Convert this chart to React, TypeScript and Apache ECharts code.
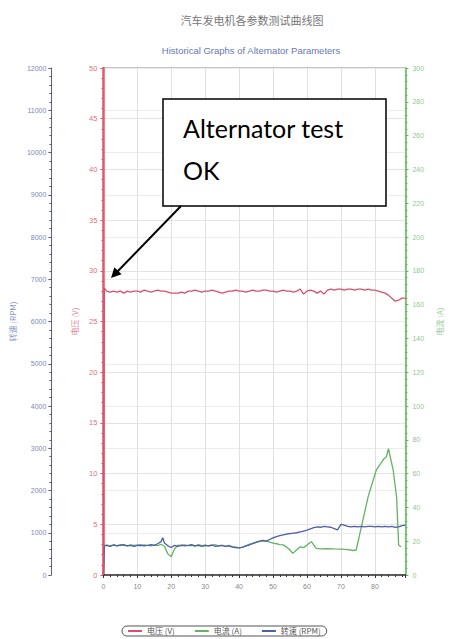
import React, { useEffect, useRef } from "react";
import * as echarts from "echarts";

const titleText = "汽车发电机各参数测试曲线图";
const subtitleText = "Historical Graphs of Alternator Parameters";
const seriesNames = ["电压 (V)", "电流 (A)", "转速 (RPM)"];
const axisNames = ["电压 (V)", "转速 (RPM)", "电流 (A)"];
const noteLines = ["Alternator test", "OK"];

// time (x) , voltage (V)
const voltage: [number, number][] = [
  [0, 0], [0.3, 28.3], [1, 28.0], [2, 27.9], [3, 28.0], [4, 27.9], [5, 28.0], [6, 27.8], [7, 28.0], [8, 27.9],
  [9, 28.0], [10, 28.0], [11, 27.9], [12, 28.1], [13, 28.0], [14, 27.9], [15, 28.0], [16, 28.1], [17, 28.0],
  [18, 28.0], [19, 27.9], [20, 27.8], [21, 27.8], [22, 27.8], [23, 27.9], [24, 27.8], [25, 28.0], [26, 28.0],
  [27, 28.1], [28, 28.0], [29, 27.9], [30, 28.0], [31, 28.0], [32, 28.1], [33, 28.0], [34, 27.9], [35, 27.8],
  [36, 27.9], [37, 28.0], [38, 28.0], [39, 28.1], [40, 28.0], [41, 28.0], [42, 27.9], [43, 28.0], [44, 28.1],
  [45, 28.0], [46, 28.0], [47, 28.1], [48, 28.1], [49, 28.0], [50, 28.0], [51, 27.9], [52, 28.0], [53, 28.1],
  [54, 28.0], [55, 28.0], [56, 27.9], [57, 28.0], [58, 28.2], [59, 27.7], [60, 28.0], [61, 28.1], [62, 28.0],
  [63, 27.8], [64, 28.0], [65, 27.7], [66, 28.1], [67, 28.2], [68, 28.1], [69, 28.2], [70, 28.2], [71, 28.1],
  [72, 28.2], [73, 28.2], [74, 28.1], [75, 28.2], [76, 28.2], [77, 28.1], [78, 28.2], [79, 28.1], [80, 28.1],
  [81, 28.0], [82, 27.9], [83, 27.8], [84, 27.6], [85, 27.3], [86, 27.0], [87, 27.1], [88, 27.3], [89, 27.3],
];

// time (x) , current (A)
const current: [number, number][] = [
  [0, 0], [0.3, 17.5], [1, 17.7], [2, 17.2], [3, 17.8], [4, 17.4], [5, 17.9], [6, 17.5], [7, 17.3], [8, 17.8],
  [9, 17.5], [10, 17.6], [11, 17.2], [12, 17.8], [13, 17.5], [14, 17.3], [15, 17.7], [16, 17.4], [17, 18.2],
  [18, 17.0], [19, 12.5], [20, 10.8], [21, 15.5], [22, 17.6], [23, 17.2], [24, 17.8], [25, 17.4], [26, 17.6],
  [27, 17.1], [28, 18.0], [29, 17.4], [30, 17.6], [31, 17.2], [32, 17.5], [33, 17.9], [34, 17.3], [35, 17.5],
  [36, 17.0], [37, 17.6], [38, 16.8], [39, 16.5], [40, 16.0], [41, 16.3], [42, 17.2], [43, 18.2], [44, 18.8],
  [45, 19.5], [46, 19.8], [47, 20.2], [48, 20.0], [49, 19.4], [50, 18.8], [51, 18.5], [52, 18.0], [53, 17.8],
  [54, 16.5], [55, 14.8], [55.8, 12.8], [57, 15.0], [58, 16.7], [59, 16.2], [60, 17.7], [61.3, 19.7],
  [62.7, 15.7], [64, 15.5], [66, 15.6], [68, 15.4], [70, 15.3], [72, 15.0], [73.5, 14.5], [74.5, 14.8],
  [75.8, 26.5], [78, 46.2], [80.4, 62.0], [82.7, 68.8], [83.4, 70.0], [84, 74.7], [85.4, 62.0], [86.4, 46.0],
  [87, 17.7], [87.7, 16.7],
];

// time (x) , speed (RPM)
const speed: [number, number][] = [
  [0, 0], [0.3, 690], [1, 700], [2, 680], [3, 710], [4, 690], [5, 700], [6, 720], [7, 690], [8, 700],
  [9, 680], [10, 700], [11, 710], [12, 690], [13, 700], [14, 720], [15, 700], [16, 740], [17, 790],
  [17.5, 880], [18, 760], [19, 690], [20, 650], [21, 700], [22, 680], [23, 710], [24, 690], [25, 700],
  [26, 720], [27, 690], [28, 700], [29, 680], [30, 700], [31, 690], [32, 710], [33, 680], [34, 690],
  [35, 700], [36, 680], [37, 690], [38, 660], [39, 650], [40, 640], [41, 660], [42, 690], [43, 710],
  [44, 740], [45, 770], [46, 800], [47, 820], [48, 800], [49, 840], [50, 880], [51, 910], [52, 930],
  [53, 950], [54, 970], [55, 980], [56, 990], [57, 1000], [58, 1020], [59, 1040], [60, 1060], [61, 1090],
  [62, 1120], [63, 1140], [64, 1130], [65, 1150], [66, 1140], [67, 1130], [68, 1100], [69, 1070],
  [70, 1200], [71, 1180], [72, 1150], [73, 1140], [74, 1150], [75, 1140], [76, 1150], [77, 1140],
  [78, 1150], [79, 1150], [80, 1140], [81, 1150], [82, 1140], [83, 1150], [84, 1140], [85, 1150],
  [86, 1130], [87, 1140], [88, 1170], [89, 1180],
];

const RED = "#d9506a";
const GREEN = "#62b462";
const BLUE = "#4f5ea6";

export default function App() {
  const ref = useRef<HTMLDivElement>(null);
  useEffect(() => {
    if (!ref.current) return;
    const chart = echarts.init(ref.current, null, { renderer: "svg" });
    const tickCommon = (color: string) => ({
      axisTick: { show: true, length: 3, lineStyle: { color } },
      minorTick: { show: true, splitNumber: 5, length: 2, lineStyle: { color } },
    });
    chart.setOption({
      animation: false,
      backgroundColor: "#ffffff",
      textStyle: { fontFamily: "'Liberation Sans', 'Noto Sans CJK SC', sans-serif" },
      title: [
        {
          text: titleText,
          left: 247,
          top: 9,
          textAlign: "center",
          textStyle: { fontSize: 11, fontWeight: "normal", color: "#777777", fontFamily: "'Noto Sans CJK SC', sans-serif" },
        },
        {
          text: subtitleText,
          left: 246,
          top: 41,
          textAlign: "center",
          textStyle: { fontSize: 9.5, fontWeight: "normal", color: "#6878b4" },
        },
      ],
      legend: {
        left: 122,
        top: 626,
        data: seriesNames,
        icon: "rect",
        itemWidth: 14,
        itemHeight: 2,
        itemGap: 20,
        padding: [1, 6],
        borderColor: "#555",
        borderWidth: 1,
        borderRadius: 6,
        textStyle: { fontSize: 8, color: "#555", fontFamily: "'Noto Sans CJK SC', sans-serif" },
      },
      grid: { left: 102, right: 26, top: 68, bottom: 64, show: true, borderColor: "#888", borderWidth: 1 },
      xAxis: {
        type: "value",
        min: 0,
        max: 89,
        interval: 10,
        axisLine: { show: true, lineStyle: { color: "#333", width: 1.5 } },
        ...tickCommon("#333"),
        axisLabel: { fontSize: 7, color: "#888", margin: 8, showMaxLabel: false },
        splitLine: { show: true, lineStyle: { color: "#e0e0e0" } },
      },
      yAxis: [
        {
          type: "value",
          position: "left",
          min: 0,
          max: 50,
          interval: 5,
          name: axisNames[0],
          nameLocation: "middle",
          nameGap: 22,
          nameRotate: 90,
          nameTextStyle: { fontSize: 8, color: "#e08a96", fontFamily: "'Noto Sans CJK SC', sans-serif" },
          axisLine: { show: true, lineStyle: { color: "#e05a6c", width: 2.5 } },
          ...tickCommon("#e05a6c"),
          axisLabel: { fontSize: 7.5, color: "#e07080", margin: 6 },
          splitLine: { show: true, lineStyle: { color: "#e4e4e4" } },
        },
        {
          type: "value",
          position: "left",
          offset: 52,
          min: 0,
          max: 12000,
          interval: 1000,
          name: axisNames[1],
          nameLocation: "middle",
          nameGap: 30,
          nameRotate: 90,
          nameTextStyle: { fontSize: 8, color: "#8a94c8", fontFamily: "'Noto Sans CJK SC', sans-serif" },
          axisLine: { show: true, lineStyle: { color: BLUE, width: 1 } },
          ...tickCommon(BLUE),
          axisLabel: { fontSize: 7, color: "#7a86c0", margin: 5, formatter: (v: number) => String(v) },
          splitLine: { show: true, lineStyle: { color: "#ececec" } },
        },
        {
          type: "value",
          position: "right",
          min: 0,
          max: 300,
          interval: 20,
          name: axisNames[2],
          nameLocation: "middle",
          nameGap: 24,
          nameRotate: 90,
          nameTextStyle: { fontSize: 8, color: "#9ccc9c", fontFamily: "'Noto Sans CJK SC', sans-serif" },
          axisLine: { show: true, lineStyle: { color: GREEN, width: 1.5 } },
          ...tickCommon(GREEN),
          axisLabel: { fontSize: 7, color: "#90c890", margin: 7 },
          splitLine: { show: false },
        },
      ],
      series: [
        {
          name: seriesNames[0],
          type: "line",
          yAxisIndex: 0,
          data: voltage,
          showSymbol: false,
          lineStyle: { color: RED, width: 1.3 },
          itemStyle: { color: RED },
          z: 4,
        },
        {
          name: seriesNames[1],
          type: "line",
          yAxisIndex: 2,
          data: current,
          showSymbol: false,
          lineStyle: { color: GREEN, width: 1.3 },
          itemStyle: { color: GREEN },
          z: 3,
        },
        {
          name: seriesNames[2],
          type: "line",
          yAxisIndex: 1,
          data: speed,
          showSymbol: false,
          lineStyle: { color: BLUE, width: 1.3 },
          itemStyle: { color: BLUE },
          z: 3,
        },
      ],
      graphic: [
        {
          type: "rect",
          shape: { x: 163, y: 99, width: 223, height: 107 },
          style: { fill: "#ffffff", stroke: "#000000", lineWidth: 1.5 },
          z: 100,
        },
        {
          type: "text",
          x: 183,
          y: 128,
          style: { text: noteLines[0], fill: "#000", font: "25px Lato, 'Liberation Sans', sans-serif", verticalAlign: "middle" },
          z: 101,
        },
        {
          type: "text",
          x: 183,
          y: 170,
          style: { text: noteLines[1], fill: "#000", font: "25px Lato, 'Liberation Sans', sans-serif", verticalAlign: "middle" },
          z: 101,
        },
        {
          type: "line",
          shape: { x1: 181, y1: 206, x2: 117, y2: 272 },
          style: { stroke: "#000", lineWidth: 2 },
          z: 101,
        },
        {
          type: "polygon",
          shape: { points: [[111, 278], [121.6, 274.3], [114.4, 267.3]] },
          style: { fill: "#000" },
          z: 101,
        },
      ],
    });
    return () => chart.dispose();
  }, []);
  return (
    <div
      ref={ref}
      style={{ position: "fixed", left: 0, top: 0, width: 451, height: 639, background: "#fff" }}
    />
  );
}
